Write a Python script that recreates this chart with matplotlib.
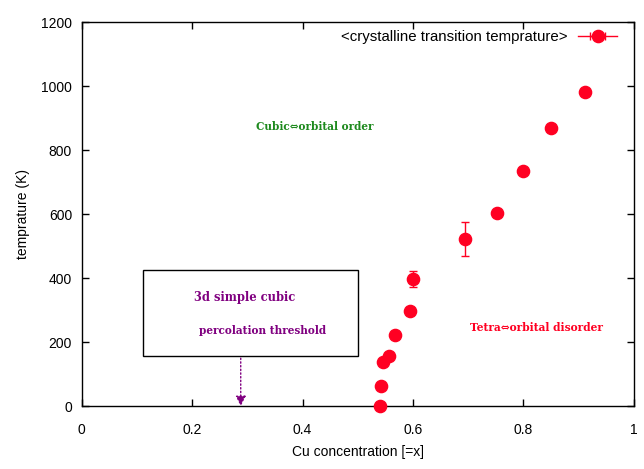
import numpy as np
import matplotlib
matplotlib.use("Agg")
import matplotlib.pyplot as plt
from matplotlib.lines import Line2D
from matplotlib.collections import LineCollection
from matplotlib.container import ErrorbarContainer
from matplotlib.patches import Rectangle

# Cu concentration vs. transition temperature
cu_x = [0.540, 0.542, 0.545, 0.556, 0.567, 0.594, 0.601, 0.694, 0.752, 0.800, 0.851, 0.911]
temp_k = [0, 63, 138, 157, 222, 298, 398, 522, 603, 735, 868, 982]
temp_err = [8, 8, 8, 8, 8, 12, 25, 52, 8, 8, 8, 8]

x_ticks = [0, 0.2, 0.4, 0.6, 0.8, 1]
y_ticks = [0, 200, 400, 600, 800, 1000, 1200]

red = "#ff0022"
purple = "#800080"
green = "#1e8a1e"

plt.rcParams["font.family"] = ["Liberation Sans", "DejaVu Sans"]

fig = plt.figure(figsize=(6.44, 4.69), dpi=100)
ax = fig.add_axes([0.127, 0.134, 0.857, 0.819])

ax.errorbar(cu_x, temp_k, yerr=temp_err, fmt="o", color=red, ms=8.8,
            elinewidth=1.0, capsize=3, capthick=1.0, zorder=5, clip_on=False)

ax.set_xlim(0, 1)
ax.set_ylim(0, 1200)
ax.set_xticks(x_ticks)
ax.set_xticklabels([f"{t:g}" for t in x_ticks])
ax.set_yticks(y_ticks)
ax.tick_params(direction="in", top=True, right=True, length=5, width=1,
               labelsize=10, pad=7)
ax.tick_params(axis="x", pad=12)
for s in ax.spines.values():
    s.set_linewidth(1.0)

ax.set_xlabel("Cu concentration [=x]", fontsize=10, labelpad=6)
ax.set_ylabel("temprature (K)", fontsize=10, labelpad=8)

# legend with horizontal error-bar sample (gnuplot style)
pl = Line2D([], [], color=red, marker="o", ms=8.8, lw=1.0)
cl = Line2D([], [], color=red, marker="|", ms=6, mew=1.0, ls="none")
bl = LineCollection([], colors=red, linewidths=1.0)
proxy = ErrorbarContainer((pl, [cl], [bl]), has_xerr=True, has_yerr=False)
leg = ax.legend([proxy], ["<crystalline transition temprature>"], loc="upper right",
                bbox_to_anchor=(0.985, 1.0), frameon=False, fontsize=10.8,
                markerfirst=False, handlelength=2.6, borderaxespad=0.15,
                handletextpad=0.7)

serif = ["DejaVu Serif"]
ax.text(0.315, 875, "Cubic\u21d4orbital order", color=green, fontsize=7.6,
        fontweight="bold", family=serif, va="center", ha="left")
ax.text(0.703, 247, "Tetra\u21d4orbital disorder", color=red, fontsize=7.7,
        fontweight="bold", family=serif, va="center", ha="left")

ax.add_patch(Rectangle((0.111, 156), 0.389, 269, fill=False, ec="black", lw=1.0, zorder=3))
ax.text(0.203, 340, "3d simple cubic", color=purple, fontsize=8.3,
        fontweight="bold", family=serif, va="center", ha="left")
ax.text(0.212, 237, "percolation threshold", color=purple, fontsize=7.6,
        fontweight="bold", family=serif, va="center", ha="left")
ax.annotate("", xy=(0.288, 0), xytext=(0.288, 150),
            arrowprops=dict(arrowstyle="-|>", color=purple, lw=1.0, ls=":",
                            mutation_scale=15, shrinkA=0, shrinkB=0))

fig.savefig("out.png", dpi=100)
